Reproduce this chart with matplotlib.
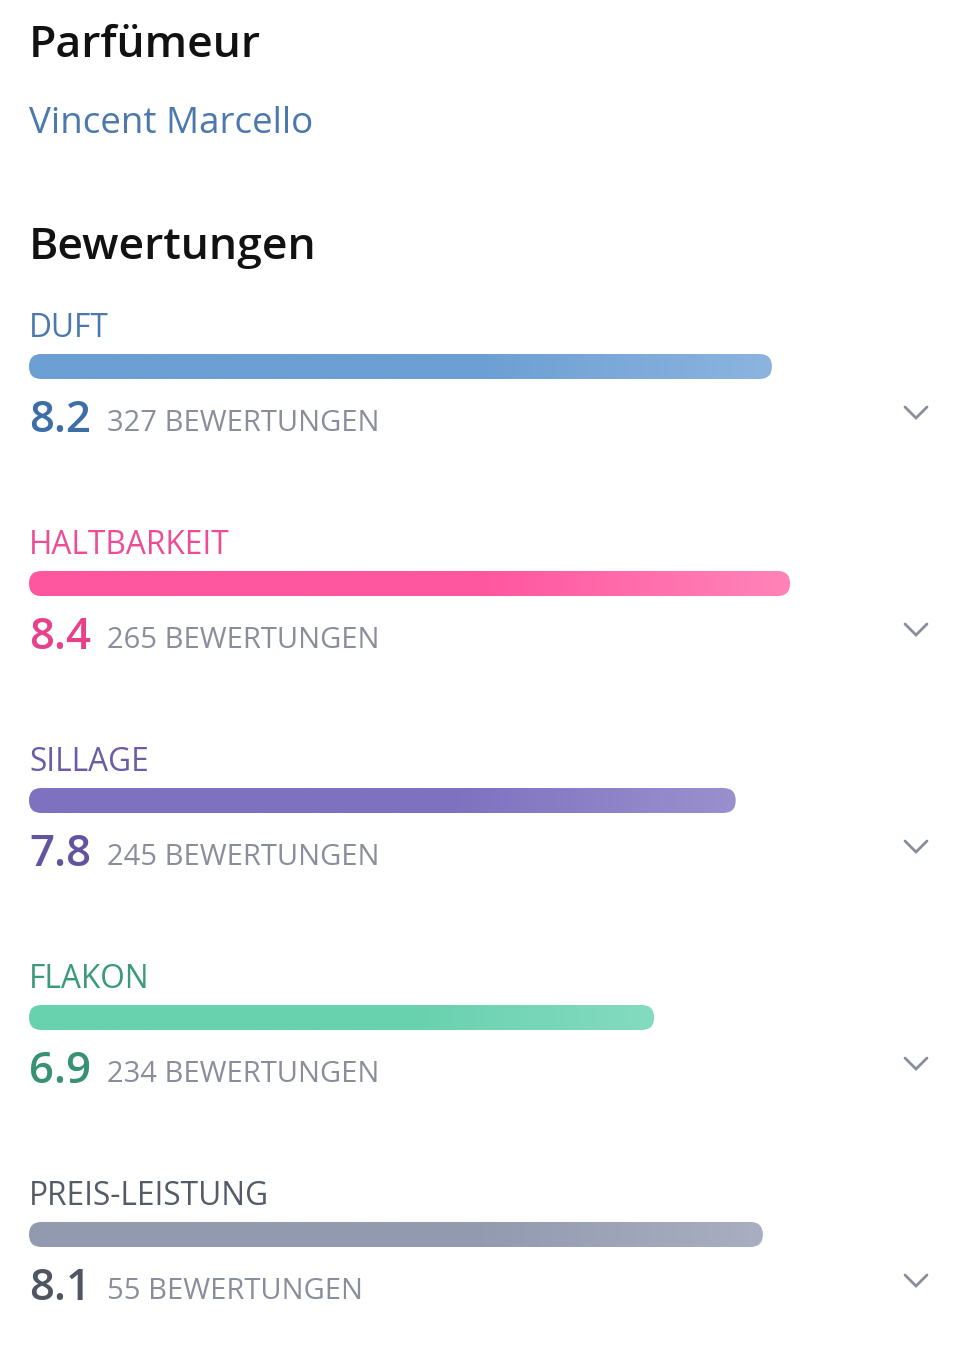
import matplotlib
matplotlib.use("Agg")
import matplotlib.pyplot as plt
import numpy as np
from matplotlib.patches import FancyBboxPatch
from matplotlib.colors import LinearSegmentedColormap

# ---- data ----
title = "Parfümeur"
perfumer = "Vincent Marcello"
section = "Bewertungen"
categories = ["DUFT", "HALTBARKEIT", "SILLAGE", "FLAKON", "PREIS-LEISTUNG"]
scores = [8.2, 8.4, 7.8, 6.9, 8.1]
counts = [327, 265, 245, 234, 55]
count_suffix = "BEWERTUNGEN"
max_score = 10.0

# ---- styles ----
label_colors = ["#4b79ad", "#ee4d95", "#6c5ca6", "#3b9a78", "#555c68"]
score_colors = ["#3d6ea8", "#e8408a", "#6454a0", "#379172", "#4f5662"]
bar_start = ["#6c9fd4", "#ff56a0", "#7e72c0", "#68d1ae", "#929ab0"]
bar_end = ["#8cb4df", "#ff84b8", "#9a90ce", "#84dbc0", "#a9afc0"]
gray = "#8a8e9c"
FONT = ["Open Sans", "DejaVu Sans"]

W, H = 959, 1350
fig = plt.figure(figsize=(W / 100, H / 100), dpi=100)
ax = fig.add_axes([0, 0, 1, 1])
ax.set_xlim(0, W)
ax.set_ylim(H, 0)
ax.axis("off")

x0 = 29
full_w = 906
px_per_pt = full_w / max_score
bar_h = 25
step = 217

ax.text(x0, 57, title, fontsize=32, fontweight="semibold", color="#111111",
        family=FONT, va="baseline", ha="left")
ax.text(x0, 133, perfumer, fontsize=26.5, color="#4b79ad",
        family=FONT, va="baseline", ha="left")
ax.text(x0, 259, section, fontsize=32, fontweight="semibold", color="#111111",
        family=FONT, va="baseline", ha="left")

for i, (cat, sc, n) in enumerate(zip(categories, scores, counts)):
    dy = step * i
    ax.text(x0, 337 + dy, cat, fontsize=22.8, color=label_colors[i],
            family=FONT, va="baseline", ha="left")
    w = sc * px_per_pt
    top = 354 + dy
    patch = FancyBboxPatch((x0, top), w, bar_h,
                           boxstyle=f"round,pad=0,rounding_size={bar_h/2}",
                           facecolor="none", edgecolor="none")
    ax.add_patch(patch)
    cmap = LinearSegmentedColormap.from_list(
        f"g{i}", [(0, bar_start[i]), (0.6, bar_start[i]), (1, bar_end[i])])
    grad = np.linspace(0, 1, 256).reshape(1, -1)
    im = ax.imshow(grad, cmap=cmap, extent=[x0, x0 + w, top + bar_h, top],
                   aspect="auto", interpolation="bilinear", zorder=2)
    im.set_clip_path(patch)
    ax.text(x0, 432 + dy, f"{sc:.1f}", fontsize=31.5, fontweight="semibold",
            color=score_colors[i], family=FONT, va="baseline", ha="left")
    ax.text(107, 431 + dy, f"{n} {count_suffix}", fontsize=21, color=gray,
            family=FONT, va="baseline", ha="left")
    cy = 413 + dy
    ax.plot([905, 916, 927], [cy - 6, cy + 5, cy - 6], color=gray,
            lw=2.0, solid_capstyle="round", solid_joinstyle="miter")

ax.set_xlim(0, W)
ax.set_ylim(H, 0)
fig.savefig("out.png", dpi=100, facecolor="white")
